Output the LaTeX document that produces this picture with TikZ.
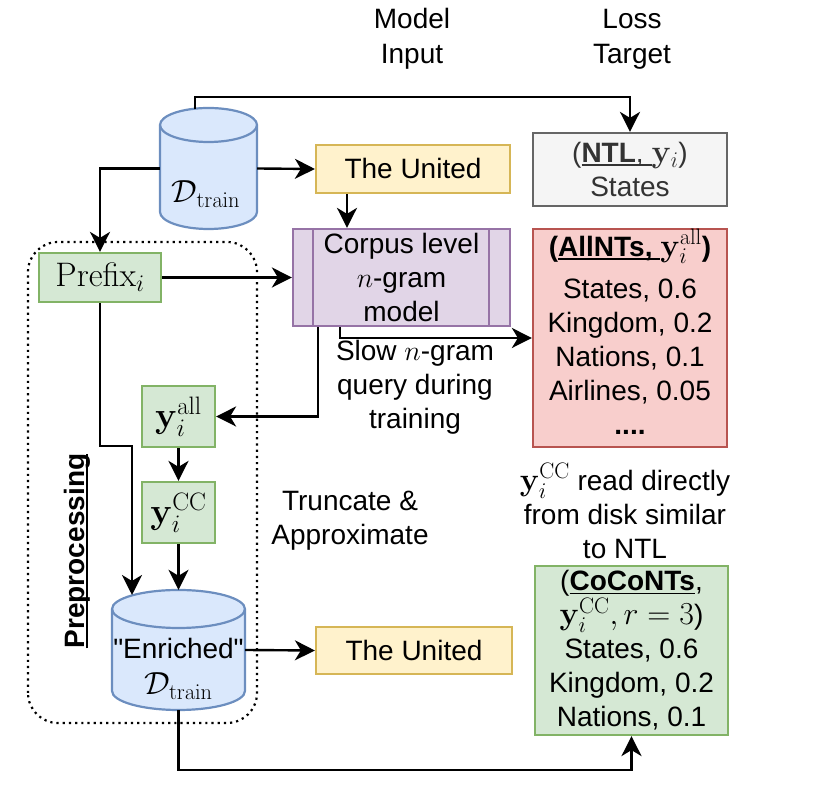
\RequirePackage{fix-cm}
\documentclass[tikz,border=0pt]{standalone}
\usepackage{amsmath}
\usepackage[no-math]{fontspec}
\setmainfont{Liberation Sans}
\newfontfamily\nolig{Liberation Sans}[Ligatures=TeXOff]
\usetikzlibrary{arrows.meta,calc}
\definecolor{cylfill}{HTML}{DAE8FC}
\definecolor{cylline}{HTML}{6C8EBF}
\definecolor{yelfill}{HTML}{FFF2CC}
\definecolor{yelline}{HTML}{D6B656}
\definecolor{purfill}{HTML}{E1D5E7}
\definecolor{purline}{HTML}{9673A6}
\definecolor{grnfill}{HTML}{D5E8D4}
\definecolor{grnline}{HTML}{82B366}
\definecolor{redfill}{HTML}{F8CECC}
\definecolor{redline}{HTML}{B85450}
\definecolor{gryfill}{HTML}{F5F5F5}
\definecolor{gryline}{HTML}{666666}
\definecolor{grytext}{HTML}{333333}
\newcommand\myul[1]{\setbox0\hbox{#1}\rlap{\rule[-3.5pt]{\wd0}{1.6pt}}\box0}
\begin{document}
\begin{tikzpicture}[x=1pt,y=1pt,font=\fontsize{28}{34}\selectfont,
  box/.style={draw,line width=2.2pt,align=center,inner sep=0pt},
  yelbox/.style={box,draw=yelline,fill=yelfill},
  grnbox/.style={box,draw=grnline,fill=grnfill},
  conn/.style={line width=2.4pt,-{Stealth[length=20pt,width=20pt,inset=6pt]}},
  cylst/.style={draw=cylline,fill=cylfill,line width=2.2pt},
  ghost/.style={inner sep=0pt,draw=none},
  lbl/.style={align=center,inner sep=0pt}]
\useasboundingbox (0,0) rectangle (831,800);

% dotted preprocessing frame
\draw[line width=2.2pt,dash pattern=on 2.2pt off 4pt,rounded corners=30pt] (28,77) rectangle (257,558);
\node[lbl,rotate=90] (prep) at (77,249) {\bfseries\myul{Preprocessing}};

% headers
\node[lbl,font=\fontsize{28}{35}\selectfont] (hmodel) at (412,761) {Model\\Input};
\node[lbl,font=\fontsize{28}{35}\selectfont] (hloss) at (632,761) {Loss\\Target};

% top cylinder
\draw[cylst] (160,675) -- (160,588) arc[start angle=180,end angle=360,x radius=48.5,y radius=17] -- (257,675) arc[start angle=0,end angle=180,x radius=48.5,y radius=17] -- cycle;
\draw[draw=cylline,line width=2.2pt] (160,675) arc[start angle=180,end angle=360,x radius=48.5,y radius=17];
\node[ghost,minimum width=97pt,minimum height=121pt] (dt) at (208.5,631.5) {};
\node[lbl,font=\fontsize{32}{34}\selectfont] (dttext) at (206,606) {$\mathcal{D}_{\mathrm{train}}$};

% enriched cylinder
\draw[cylst] (112,191) -- (112,109) arc[start angle=180,end angle=360,x radius=66.5,y radius=19] -- (245,191) arc[start angle=0,end angle=180,x radius=66.5,y radius=19] -- cycle;
\draw[draw=cylline,line width=2.2pt] (112,191) arc[start angle=180,end angle=360,x radius=66.5,y radius=19];
\node[ghost,minimum width=133pt,minimum height=120pt] (en) at (178.5,150) {};
\node[lbl] (entext) at (178.5,131) {{\nolig "Enriched"}\\[2pt]{\fontsize{32}{34}\selectfont$\mathcal{D}_{\mathrm{train}}$}};

% boxes
\node[yelbox,minimum width=194pt,minimum height=48pt] (u1) at (413,631) {The United};
\node[yelbox,minimum width=196pt,minimum height=47pt] (u2) at (414,149.5) {The United};
\node[box,draw=purline,fill=purfill,minimum width=217pt,minimum height=97pt] (corpus) at (401.5,522.5) {Corpus level\\$n$-gram\\model};
\draw[draw=purline,line width=2.2pt] ($(corpus.north west)+(21,0)$) -- ($(corpus.south west)+(21,0)$);
\draw[draw=purline,line width=2.2pt] ($(corpus.north east)+(-22,0)$) -- ($(corpus.south east)+(-22,0)$);
\node[grnbox,minimum width=122pt,minimum height=49pt,font=\fontsize{34}{36}\selectfont] (prefix) at (100,522.5) {$\mathrm{Prefix}_i$};
\node[grnbox,minimum width=73pt,minimum height=61pt,font=\fontsize{36}{38}\selectfont] (yall) at (178.5,383.5) {$\mathbf{y}_i^{\mathrm{all}}$};
\node[grnbox,minimum width=73pt,minimum height=61pt,font=\fontsize{36}{38}\selectfont] (ycc) at (178.5,287.5) {$\mathbf{y}_i^{\mathrm{CC}}$};

\node[box,draw=gryline,fill=gryfill,text=grytext,minimum width=194pt,minimum height=73pt] (ntl) at (630,630.5) {(\myul{\textbf{NTL}, }{\fontsize{32}{34}\selectfont$\mathbf{y}_i$})\\States};
\node[box,draw=redline,fill=redfill,minimum width=194pt,minimum height=218pt] (allnts) at (630,462) {};
\node[lbl] (allntstext) at (630,468.5) {\textbf{(\myul{AllNTs, }{\fontsize{32}{34}\selectfont$\mathbf{y}_i^{\mathrm{all}}$})}\\[8pt]States, 0.6\\Kingdom, 0.2\\Nations, 0.1\\Airlines, 0.05\\\textbf{....}};
\node[grnbox,minimum width=193pt,minimum height=169pt] (coco) at (631.5,149.5) {(\myul{\textbf{CoCoNTs}},\\{\fontsize{32}{34}\selectfont$\mathbf{y}_i^{\mathrm{CC}}, r=3$})\\States, 0.6\\Kingdom, 0.2\\Nations, 0.1};

% free labels
\node[lbl] (slow) at (415,413) {Slow $n$-gram\\query during\\training};
\node[lbl] (trunc) at (350,279) {Truncate \&\\Approximate};
\node[lbl] (ccread) at (625,289) {{\fontsize{32}{34}\selectfont$\mathbf{y}_i^{\mathrm{CC}}$} read directly\\from disk similar\\to NTL};

% helper coordinates
\coordinate (topy) at (0,703);
\coordinate (boty) at (0,30);
\coordinate (ux) at (347,0);
\coordinate (qx1) at (318,0);
\coordinate (qx2) at (340,0);
\coordinate (dtup) at (195,691);
\coordinate (pbend) at (132,354);
\coordinate (enin) at (132,205);

% connectors
\draw[conn] (dtup) -- (dtup |- topy) -| (ntl.north);
\draw[conn] (dt.east) -- (u1.west);
\draw[conn] (dt.west) -| (prefix.north);
\draw[conn] (u1.south -| ux) -- (corpus.north -| ux);
\draw[conn] (prefix.east) -- (corpus.west);
\draw[conn] (corpus.south -| qx1) |- (yall.east);
\draw[conn] (corpus.south -| qx2) |- (allnts.west);
\draw[conn] (yall.south) -- (ycc.north);
\draw[conn] (ycc.south) -- (en.north);
\draw[conn] (prefix.south) |- (pbend) -- (enin);
\draw[conn] (en.east) -- (u2.west);
\draw[conn] (en.south) -- (en.south |- boty) -| (coco.south);
\end{tikzpicture}
\end{document}
